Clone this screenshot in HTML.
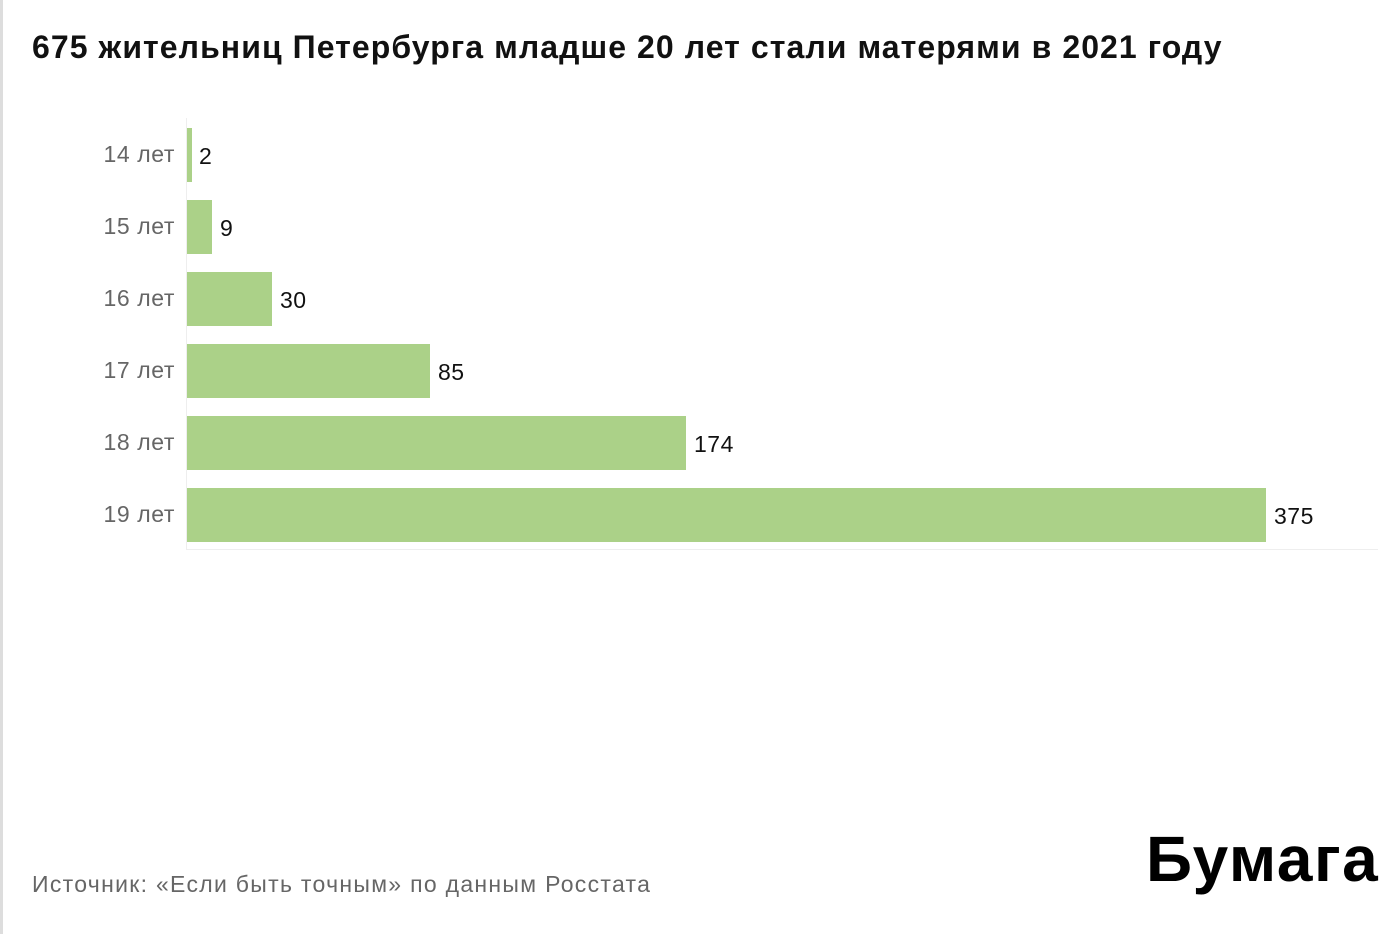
<!DOCTYPE html>
<html><head><meta charset="utf-8"><style>
body{margin:0;width:1400px;height:934px;background:#fff;position:relative;overflow:hidden;font-family:"Liberation Sans","DejaVu Sans",sans-serif}
.lb{position:absolute;left:0;top:0;width:3px;height:934px;background:#ddd}
.t{position:absolute;left:32px;top:29px;font-size:32px;font-weight:bold;color:#111;white-space:nowrap;letter-spacing:1.07px}
.l{position:absolute;right:1225px;font-size:23px;color:#666;white-space:nowrap;line-height:54px;letter-spacing:0.6px}
.b{position:absolute;left:187px;height:54px;background:#abd188}
.v{position:absolute;font-size:23px;color:#111;line-height:56px;letter-spacing:0.5px}
.s{position:absolute;left:32px;top:871px;font-size:23px;color:#666;letter-spacing:1.3px;white-space:nowrap}
.logo{position:absolute;left:1146px;top:822px;font-size:64px;font-weight:bold;color:#000;letter-spacing:1.5px}
</style></head><body>
<div class="lb"></div>
<div class="t">675 жительниц Петербурга младше 20 лет стали матерями в 2021 году</div>
<div style="position:absolute;left:186px;top:118px;width:1px;height:432px;background:#eee"></div>
<div style="position:absolute;left:186px;top:549px;width:1192px;height:1px;background:#eee"></div>
<div class="l" style="top:127px">14 лет</div><div class="b" style="top:128px;width:5px"></div><div class="v" style="top:128px;left:199px">2</div>
<div class="l" style="top:199px">15 лет</div><div class="b" style="top:200px;width:25px"></div><div class="v" style="top:200px;left:220px">9</div>
<div class="l" style="top:271px">16 лет</div><div class="b" style="top:272px;width:85px"></div><div class="v" style="top:272px;left:280px">30</div>
<div class="l" style="top:343px">17 лет</div><div class="b" style="top:344px;width:243px"></div><div class="v" style="top:344px;left:438px">85</div>
<div class="l" style="top:415px">18 лет</div><div class="b" style="top:416px;width:499px"></div><div class="v" style="top:416px;left:694px">174</div>
<div class="l" style="top:487px">19 лет</div><div class="b" style="top:488px;width:1079px"></div><div class="v" style="top:488px;left:1274px">375</div>
<div class="s">Источник: «Если быть точным» по данным Росстата</div>
<div class="logo">Бумага</div>
</body></html>
